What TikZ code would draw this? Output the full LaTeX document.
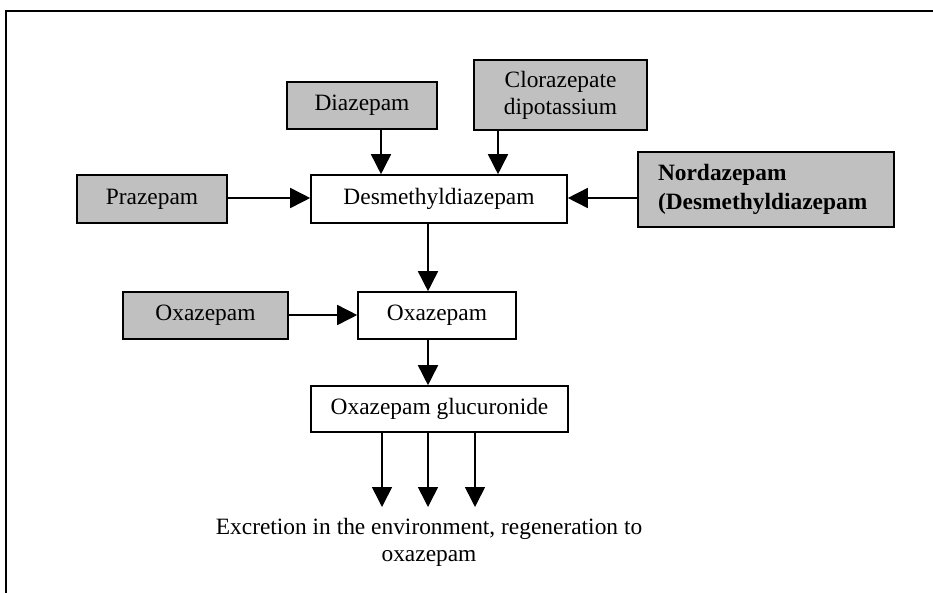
\documentclass[tikz,border=0pt]{standalone}
\usepackage{fontspec}
\setmainfont{Liberation Serif}
\usetikzlibrary{arrows.meta}
\definecolor{boxgray}{HTML}{C0C0C0}
\tikzset{
  basebox/.style={draw=black, line width=1.6pt, inner sep=0pt, font=\fontsize{23.4}{27}\selectfont, align=center},
  graybox/.style={basebox, fill=boxgray},
  whitebox/.style={basebox, fill=white},
  arr/.style={line width=1.6pt, -{Triangle[length=20pt,width=20pt]}},
  frameline/.style={line width=2pt}
}
\begin{document}
\begin{tikzpicture}[x=1pt,y=-1pt]
\useasboundingbox[fill=white] (0,0) rectangle (933,592);
\clip (0,0) rectangle (933,592);
\draw[frameline] (6,640) -- (6,11) -- (980,11);

\node[graybox, minimum width=150pt, minimum height=47pt] (diaz) at (362,105.5) {Diazepam};
\node[graybox, minimum width=173pt, minimum height=70pt] (cloz) at (560.5,95) {Clorazepate\\dipotassium};
\node[graybox, minimum width=150pt, minimum height=48pt] (praz) at (152,199) {Prazepam};
\node[whitebox, minimum width=256pt, minimum height=48pt] (desm) at (439,199) {Desmethyldiazepam};
\node[graybox, minimum width=256pt, minimum height=75pt, text width=216pt, inner xsep=20pt, align=left, font=\fontsize{23.4}{28.5}\selectfont\bfseries] (nord) at (766,189.5) {Nordazepam\\(Desmethyldiazepam};
\node[graybox, minimum width=165pt, minimum height=47pt] (oxg) at (205.5,315.5) {Oxazepam};
\node[whitebox, minimum width=158pt, minimum height=47pt] (oxw) at (437,315.5) {Oxazepam};
\node[whitebox, minimum width=257pt, minimum height=46pt] (gluc) at (439.5,409) {Oxazepam glucuronide};
\node[font=\fontsize{23.4}{27}\selectfont, align=center, inner sep=0pt] (excr) at (429,542) {Excretion in the environment, regeneration to\\oxazepam};

\coordinate (xa) at (381,0);
\coordinate (xb) at (498,0);
\coordinate (xc) at (428,0);
\coordinate (ya) at (0,198);
\coordinate (yb) at (0,315);
\coordinate (e1) at (382,507);
\coordinate (e2) at (428,507);
\coordinate (e3) at (475,507);

\draw[arr] (diaz.south -| xa) -- (desm.north -| xa);
\draw[arr] (cloz.south -| xb) -- (desm.north -| xb);
\draw[arr] (praz.east |- ya) -- (desm.west |- ya);
\draw[arr] (nord.west |- ya) -- (desm.east |- ya);
\draw[arr] (desm.south -| xc) -- (oxw.north -| xc);
\draw[arr] (oxg.east |- yb) -- (oxw.west |- yb);
\draw[arr] (oxw.south -| xc) -- (gluc.north -| xc);
\draw[arr] (gluc.south -| e1) -- (e1);
\draw[arr] (gluc.south -| e2) -- (e2);
\draw[arr] (gluc.south -| e3) -- (e3);
\end{tikzpicture}
\end{document}
